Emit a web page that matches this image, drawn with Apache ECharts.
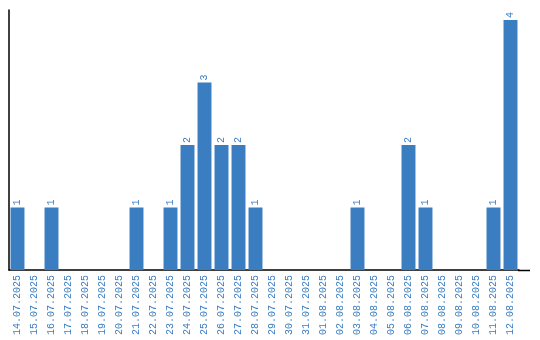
<!DOCTYPE html>
<html><head><meta charset="utf-8">
<script src="https://cdn.jsdelivr.net/npm/echarts@6/dist/echarts.min.js"></script>
<style>html,body{margin:0;padding:0;background:#fff}#c{width:540px;height:340px}</style>
</head><body><div id="c"></div>
<script>
const categories = ["14.07.2025","15.07.2025","16.07.2025","17.07.2025","18.07.2025","19.07.2025","20.07.2025","21.07.2025","22.07.2025","23.07.2025","24.07.2025","25.07.2025","26.07.2025","27.07.2025","28.07.2025","29.07.2025","30.07.2025","31.07.2025","01.08.2025","02.08.2025","03.08.2025","04.08.2025","05.08.2025","06.08.2025","07.08.2025","08.08.2025","09.08.2025","10.08.2025","11.08.2025","12.08.2025"];
const values = [1,0,1,0,0,0,0,1,0,1,2,3,2,2,1,0,0,0,0,0,1,0,0,2,1,0,0,0,1,4];
const chart = echarts.init(document.getElementById('c'));
chart.setOption({
  animation: false,
  grid: {left: 9, right: 21, top: 10, bottom: 70},
  graphic: [{type: 'line', shape: {x1: 518, y1: 270.5, x2: 530, y2: 270.5}, style: {stroke: '#000', lineWidth: 1.5}}],
  xAxis: {
    type: 'category', data: categories,
    axisLine: {lineStyle: {color: '#000', width: 1.5}},
    axisTick: {show: false},
    axisLabel: {rotate: 90, interval: 0, color: '#3b7dc1', fontFamily: 'Liberation Mono', fontSize: 10, margin: 5}
  },
  yAxis: {
    type: 'value', min: 0, max: 4.16,
    axisLine: {show: true, lineStyle: {color: '#000', width: 1.5}},
    axisTick: {show: false}, axisLabel: {show: false}, splitLine: {show: false}
  },
  series: [{
    type: 'bar', data: values, barCategoryGap: '18%',
    itemStyle: {color: '#3b7dc1'},
    label: {show: true, position: 'top', rotate: 90, align: 'left', verticalAlign: 'middle', distance: 2,
      color: '#3b7dc1', fontFamily: 'Liberation Mono', fontSize: 10,
      formatter: p => p.value > 0 ? String(p.value) : ''}
  }]
});
</script></body></html>
